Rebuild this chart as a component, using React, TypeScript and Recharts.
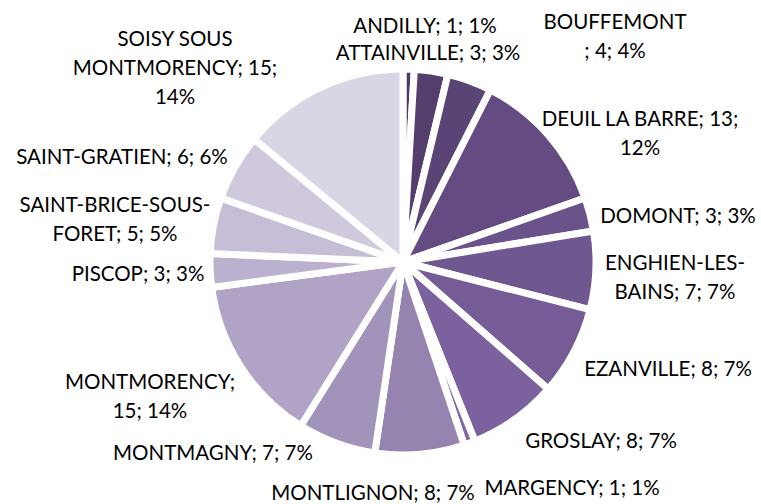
import * as React from "react"
import { PieChart, Pie, Cell } from "recharts"

const communes = [
  "ANDILLY",
  "ATTAINVILLE",
  "BOUFFEMONT",
  "DEUIL LA BARRE",
  "DOMONT",
  "ENGHIEN-LES-BAINS",
  "EZANVILLE",
  "GROSLAY",
  "MARGENCY",
  "MONTLIGNON",
  "MONTMAGNY",
  "MONTMORENCY",
  "PISCOP",
  "SAINT-BRICE-SOUS-FORET",
  "SAINT-GRATIEN",
  "SOISY SOUS MONTMORENCY",
]

const counts = [1, 3, 4, 13, 3, 7, 8, 8, 1, 8, 7, 15, 3, 5, 6, 15]

const percents = [1, 3, 4, 12, 3, 7, 7, 7, 1, 7, 7, 14, 3, 5, 6, 14]

// how each label wraps in the original
const labelLines = [
  ["ANDILLY; 1; 1%"],
  ["ATTAINVILLE; 3; 3%"],
  ["BOUFFEMONT", "; 4; 4%"],
  ["DEUIL LA BARRE; 13;", "12%"],
  ["DOMONT; 3; 3%"],
  ["ENGHIEN-LES-", "BAINS; 7; 7%"],
  ["EZANVILLE; 8; 7%"],
  ["GROSLAY; 8; 7%"],
  ["MARGENCY; 1; 1%"],
  ["MONTLIGNON; 8; 7%"],
  ["MONTMAGNY; 7; 7%"],
  ["MONTMORENCY;", "15; 14%"],
  ["PISCOP; 3; 3%"],
  ["SAINT-BRICE-SOUS-", "FORET; 5; 5%"],
  ["SAINT-GRATIEN; 6; 6%"],
  ["SOISY SOUS", "MONTMORENCY; 15;", "14%"],
]

const colors = [
  "#4e3a66", "#533e6d", "#5a4475", "#644c83",
  "#6a528b", "#6f5790", "#755c97", "#7b619e",
  "#8468a6", "#9583b0", "#a193b9", "#b0a3c5",
  "#bbb0ce", "#c6bdd7", "#d0c9de", "#d9d5e5",
]

// label block centres (layout only)
const labelCentres = [
  [425, 25], [428, 52], [615, 35], [640, 132], [678, 215], [675, 276],
  [668, 368], [601, 440], [572, 487], [373, 492], [213, 452], [150, 395],
  [138, 273], [115, 218], [122, 156], [175, 67],
]

const data = communes.map((name, i) => ({ name, value: counts[i], pct: percents[i] }))

const LINE_H = 29

const renderLabel = (props: any) => {
  const i = props.index
  const lines = labelLines[i]
  const [x, y] = labelCentres[i]
  const top = y - ((lines.length - 1) * LINE_H) / 2
  return (
    <text
      key={`lbl-${i}`}
      x={x}
      y={top}
      textAnchor="middle"
      dominantBaseline="central"
      fill="#000"
      style={{ fontFamily: "Lato, 'Open Sans', sans-serif", fontSize: 20.5 }}
    >
      {lines.map((l, k) => (
        <tspan key={k} x={x} y={top + k * LINE_H}>
          {l}
        </tspan>
      ))}
    </text>
  )
}

export default function App() {
  return (
    <div style={{ position: "absolute", left: 0, top: 0, width: 761, height: 504, background: "#fff" }}>
      <PieChart width={761} height={504} margin={{ top: 0, right: 0, bottom: 0, left: 0 }}>
        <Pie
          data={data}
          dataKey="value"
          nameKey="name"
          cx={403}
          cy={262}
          outerRadius={193}
          startAngle={90}
          endAngle={-270}
          stroke="#ffffff"
          strokeWidth={7}
          label={renderLabel}
          labelLine={false}
          isAnimationActive={false}
        >
          {data.map((d, i) => (
            <Cell key={d.name} fill={colors[i]} />
          ))}
        </Pie>
      </PieChart>
    </div>
  )
}
